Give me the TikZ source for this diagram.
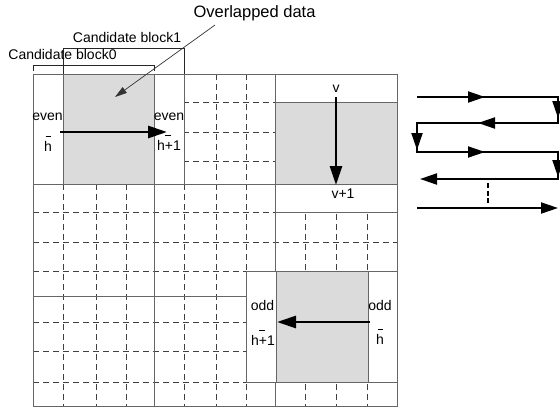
\documentclass[tikz,border=0pt]{standalone}
\usepackage{fontspec}
\setmainfont{Liberation Sans}
\usetikzlibrary{arrows.meta}

% h with a bar, and h+1 with its bar
\newcommand\barh{\rlap{\hspace{0.1em}\rule[1.0em]{0.36em}{0.6pt}}h}
\newcommand\barhplus{h\rlap{\hspace{0.04em}\rule[1.0em]{0.4em}{0.6pt}}+1}

\begin{document}
\begin{tikzpicture}[x=1pt,y=-1pt,
  gridline/.style={black!60,line width=0.9pt},
  subline/.style={black!75,line width=0.8pt,dash pattern=on 6pt off 4pt},
  blockbox/.style={draw=black!60,line width=0.9pt,fill=white},
  overlap/.style={draw=black!60,line width=0.9pt,fill=black!14},
  bracket/.style={black!85,line width=0.8pt},
  lbl/.style={inner sep=0pt,anchor=base,font=\fontsize{14}{16}\selectfont},
  bigarrow/.style={line width=2.8pt,-{Triangle[length=19pt,width=12pt]}},
  pointer/.style={black!80,line width=0.7pt,-{Triangle[length=12pt,width=7pt]}},
  serp/.style={line width=2pt},
  serphead/.style={line width=2pt,-{Triangle[length=17pt,width=11pt]}}]
\useasboundingbox (0,0) rectangle (560,407);

% fine grid of the search area
\foreach \gx in {63,96,126,184,216,246,305,336,367}
  \draw[subline] (\gx,74) -- (\gx,406);
\foreach \gy in {102,132,161,212,242,271,322,351,382}
  \draw[subline] (33,\gy) -- (397,\gy);
% macroblock boundaries
\foreach \gx in {154,275}
  \draw[gridline] (\gx,74) -- (\gx,406);
\foreach \gy in {184,296}
  \draw[gridline] (33,\gy) -- (397,\gy);

% horizontal candidate pair (even row)
\path[blockbox] (33,74) rectangle (184,184);
\path[overlap] (63,74) rectangle (154,184);
% vertical candidate pair
\path[blockbox] (275,74) rectangle (397,212);
\path[overlap] (275,102) rectangle (397,184);
% horizontal candidate pair (odd row)
\path[blockbox] (246,271) rectangle (397,382);
\path[overlap] (276,271) rectangle (368,382);

\draw[gridline] (33,74) rectangle (397,406);

% brackets marking the two candidate blocks
\draw[bracket] (63,74) -- (63,48) -- (184,48) -- (184,74);
\draw[bracket] (33,71) -- (33,65) -- (154,65) -- (154,71);

% labels
\node[lbl,font=\fontsize{16.5}{18}\selectfont] (ovl) at (254.5,17) {Overlapped data};
\node[lbl] (cb1) at (127,42) {Candidate block1};
\node[lbl] (cb0) at (62.5,59) {Candidate block0};
\node[lbl] (evenL) at (47.5,120) {even};
\node[lbl] (hL) at (48,151) {\barh};
\node[lbl] (evenR) at (169,120) {even};
\node[lbl] (h1R) at (169,150) {\barhplus};
\node[lbl] (v) at (336,92) {v};
\node[lbl] (v1) at (343,198) {v+1};
\node[lbl] (oddL) at (262.5,310) {odd};
\node[lbl] (h1odd) at (263,345) {\barhplus};
\node[lbl] (oddR) at (380,310) {odd};
\node[lbl] (hodd) at (380,344) {\barh};

% pointer to the overlapped area
\coordinate (ovlfrom) at (215,25);
\coordinate (ovlto) at (115,97);
\draw[pointer] (ovlfrom) -- (ovlto);

% search direction arrows
\coordinate (ha) at (60,132);  \coordinate (hb) at (167,132);
\coordinate (va) at (336,97);  \coordinate (vb) at (336,185);
\coordinate (oa) at (370,322); \coordinate (ob) at (277,322);
\draw[bigarrow] (ha) -- (hb);
\draw[bigarrow] (va) -- (vb);
\draw[bigarrow] (oa) -- (ob);

% zig-zag scan order
\coordinate (r1a) at (417,97);  \coordinate (r1b) at (558,97);
\coordinate (r2b) at (558,123); \coordinate (r2a) at (417,123);
\coordinate (r3a) at (417,152); \coordinate (r3b) at (558,152);
\coordinate (r4b) at (558,179); \coordinate (r4a) at (420,179);
\coordinate (r5a) at (417,208); \coordinate (r5b) at (558,208);
\draw[serp] (r1a) -- (r1b) -- (r2b) -- (r2a) -- (r3a) -- (r3b) -- (r4b) -- (487,179);
\draw[serphead] (487,179) -- (r4a);
\draw[serphead] (r1a) -- (485,97);
\draw[serphead] (r2b) -- (478,123);
\draw[serphead] (r3a) -- (485,152);
\draw[serphead] (r1b) -- (558,118);
\draw[serphead] (r2a) -- (417,150);
\draw[serphead] (r3b) -- (558,177);
\draw[serphead] (r5a) -- (r5b);
\coordinate (dta) at (488,183); \coordinate (dtb) at (488,204);
\draw[line width=2.5pt,dash pattern=on 5pt off 2.5pt] (dta) -- (dtb);
\end{tikzpicture}
\end{document}
